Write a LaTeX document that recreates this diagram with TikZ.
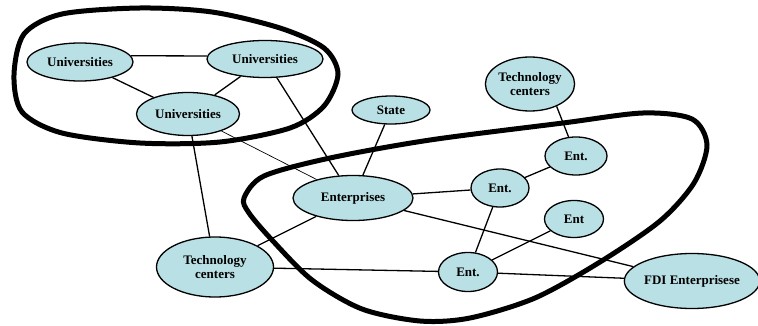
\documentclass[tikz,border=0pt]{standalone}
\usepackage{fontspec}
\setmainfont{Liberation Serif}
\usepackage{xcolor}
\usetikzlibrary{shapes.geometric}

\definecolor{actorfill}{RGB}{185,224,228}

\tikzset{
    actor/.style={ellipse, draw, line width=1.3pt, fill=actorfill, inner sep=0pt,
        align=center, font=\fontsize{13}{14}\selectfont\bfseries},
    tie/.style={line width=1.3pt},
    weaktie/.style={line width=0.7pt},
    cluster/.style={line width=5pt}
}

\begin{document}
\begin{tikzpicture}[x=1pt,y=-1pt]
    \useasboundingbox (0,0) rectangle (758,326);

    % clusters
    \draw[cluster] plot[smooth cycle] coordinates {(14,75) (24,34) (62,14) (140,8) (212,12)
        (280,28) (324,48) (338,74) (324,106) (290,128) (220,142) (140,143) (62,133) (22,112)};
    \draw[cluster] plot[smooth cycle] coordinates {(244,198) (264,176) (330,158) (430,140)
        (563,123) (643,113) (692,119) (707,145) (694,183) (660,221) (600,262) (535,298)
        (470,318) (420,321) (362,309) (312,280) (272,240) (249,213)};

    % actors
    \node[actor, minimum width=106pt, minimum height=38pt] (uniA) at (80,62) {Universities};
    \node[actor, minimum width=116pt, minimum height=37pt] (uniB) at (265,59) {Universities};
    \node[actor, minimum width=103pt, minimum height=43pt] (uniC) at (188,114) {Universities};
    \node[actor, minimum width=78pt, minimum height=28pt] (state) at (391,110) {State};
    \node[actor, minimum width=88pt, minimum height=54pt] (techA) at (530,84) {Technology\\centers};
    \node[actor, minimum width=62pt, minimum height=38pt] (entA) at (576,156) {Ent.};
    \node[actor, minimum width=58pt, minimum height=38pt] (entB) at (500,188) {Ent.};
    \node[actor, minimum width=59pt, minimum height=37pt] (entC) at (574,219) {Ent};
    \node[actor, minimum width=120pt, minimum height=45pt] (ent) at (353,198) {Enterprises};
    \node[actor, minimum width=59pt, minimum height=39pt] (entD) at (468,272) {Ent.};
    \node[actor, minimum width=117pt, minimum height=60pt] (techB) at (215,267) {Technology\\centers};
    \node[actor, minimum width=129pt, minimum height=55pt] (fdi) at (692,281) {FDI Enterprisese};

    % ties
    \draw[tie] (uniA.7) -- (uniB.177);
    \draw[tie] (uniA) -- (uniC);
    \draw[tie] (uniB) -- (uniC);
    \draw[tie] (uniB) -- (ent);
    \draw[weaktie] (uniC) -- (ent);
    \draw[tie] (uniC) -- (techB);
    \draw[tie] (state) -- (ent);
    \draw[tie] (techA.-40) -- (entA);
    \draw[tie] (ent) -- (entB);
    \draw[tie] (entB) -- (entA);
    \draw[tie] (ent) -- (fdi);
    \draw[tie] (ent) -- (techB);
    \draw[tie] (techB) -- (entD);
    \draw[tie] (entB) -- (entD);
    \draw[tie] (entD) -- (entC);
    \draw[tie] (entD) -- (fdi);
\end{tikzpicture}
\end{document}
